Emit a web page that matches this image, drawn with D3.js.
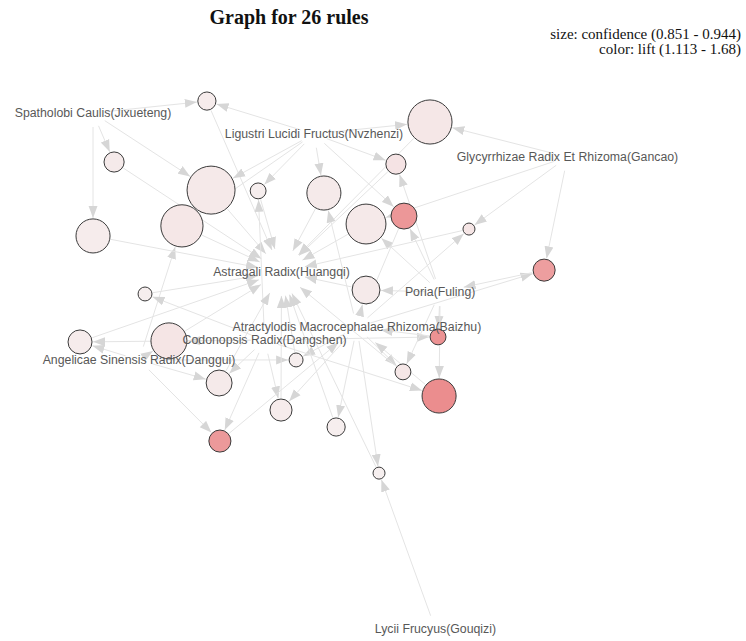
<!DOCTYPE html>
<html>
<head>
  <meta charset="utf-8">
  <script src="https://d3js.org/d3.v7.min.js"></script>
  <title>Graph for 26 rules</title>
  <style>
    body { margin: 0px; background: #fff; }
    .title { font-family: "Liberation Serif", serif; font-weight: bold; font-size: 20px; fill: #111; }
    .sub { font-family: "Liberation Serif", serif; font-size: 15px; fill: #111; }
    .item-label { font-family: "Liberation Sans", Arial, sans-serif; font-size: 12.3px; fill: #585858; }
  </style>
</head>
<body>
  <svg width="746" height="641"></svg>
  <script>
    // items (layout coords, igraph style -1..1)
    const itemNames = ['Spatholobi Caulis(Jixueteng)', 'Ligustri Lucidi Fructus(Nvzhenzi)',
      'Glycyrrhizae Radix Et Rhizoma(Gancao)', 'Astragali Radix(Huangqi)', 'Poria(Fuling)',
      'Atractylodis Macrocephalae Rhizoma(Baizhu)', 'Codonopsis Radix(Dangshen)',
      'Angelicae Sinensis Radix(Danggui)', 'Lycii Frucyus(Gouqizi)'];
    const itemX = [-0.873, -0.023, 0.952, -0.148, 0.462, 0.142, -0.213, -0.696, 0.444];
    const itemY = [0.951, 0.872, 0.785, 0.351, 0.275, 0.143, 0.094, 0.019, -0.996];

    // rules
    const ruleX = [-0.435, 0.423, -0.792, 0.292, -0.419, -0.238, 0.015, -0.531, 0.177, 0.323,
      -0.873, 0.573, 0.862, 0.177, -0.673, -0.581, -0.923, 0.454, -0.092, -0.388,
      0.319, 0.458, -0.150, -0.385, 0.062, 0.227];
    const ruleY = [0.996, 0.917, 0.766, 0.758, 0.660, 0.657, 0.649, 0.525, 0.532, 0.562,
      0.487, 0.513, 0.358, 0.283, 0.268, 0.091, 0.087, 0.106, 0.019, -0.068,
      -0.026, -0.117, -0.170, -0.287, -0.234, -0.408];
    const ruleConf = [0.867, 0.934, 0.872, 0.872, 0.944, 0.861, 0.908, 0.929, 0.923, 0.887,
      0.908, 0.851, 0.877, 0.892, 0.856, 0.913, 0.882, 0.861, 0.856, 0.887,
      0.861, 0.908, 0.877, 0.877, 0.867, 0.851];
    const ruleLift = [1.13, 1.16, 1.14, 1.18, 1.15, 1.12, 1.14, 1.16, 1.15, 1.62,
      1.13, 1.17, 1.58, 1.14, 1.12, 1.17, 1.13, 1.65, 1.12, 1.14,
      1.16, 1.68, 1.13, 1.61, 1.12, 1.113];
    // lhs / rhs as item indices
    const ruleLhs = [[0, 1], [2, 1], [0], [1, 4], [0, 1], [1, 6], [1, 5], [7, 1], [2, 4], [1, 4],
      [0], [2, 5], [2, 5], [4, 5], [6], [7, 6], [6, 7], [4, 6], [7, 5], [7, 6],
      [5, 4], [4, 6], [5, 6], [7, 6], [5], [8, 5]];
    const ruleRhs = [3, 3, 3, 3, 3, 3, 3, 3, 3, 5,
      3, 3, 4, 3, 3, 3, 3, 5, 3, 3,
      3, 5, 3, 5, 3, 3];

    const svg = d3.select('svg');
    const width = +svg.attr('width');

    const xScale = d3.scaleLinear().domain([-1, 1]).range([60, 580]);
    const yScale = d3.scaleLinear().domain([-1, 1]).range([630, 100]);
    const rScale = d3.scaleLinear().domain([0.851, 0.944]).range([6, 24]);
    const colorScale = d3.scaleLinear().domain([1.113, 1.68]).range(['#f6efef', '#eb8d8e']);

    const itemR = 24;

    // title + legend text
    svg.append('text').attr('class', 'title')
      .attr('x', 289).attr('y', 24).attr('text-anchor', 'middle')
      .text('Graph for 26 rules');
    svg.append('text').attr('class', 'sub')
      .attr('x', width - 5).attr('y', 39).attr('text-anchor', 'end')
      .text('size: confidence (0.851 - 0.944)');
    svg.append('text').attr('class', 'sub')
      .attr('x', width - 5).attr('y', 54).attr('text-anchor', 'end')
      .text('color: lift (1.113 - 1.68)');

    // arrow marker
    svg.append('defs').append('marker')
      .attr('id', 'arrow')
      .attr('markerUnits', 'userSpaceOnUse')
      .attr('viewBox', '0 -5 12 10')
      .attr('refX', 12).attr('refY', 0)
      .attr('markerWidth', 12).attr('markerHeight', 10)
      .attr('orient', 'auto')
      .append('path')
      .attr('d', 'M0,-4.5L12,0L0,4.5Z')
      .attr('fill', '#d6d6d6');

    // build edges
    const edges = [];
    ruleLhs.forEach((lhs, i) => {
      lhs.forEach(k => edges.push({ from: 'i', fi: k, to: 'r', ti: i }));
      edges.push({ from: 'r', fi: i, to: 'i', ti: ruleRhs[i] });
    });

    const pos = (t, k) => t === 'i'
      ? [xScale(itemX[k]), yScale(itemY[k])]
      : [xScale(ruleX[k]), yScale(ruleY[k])];
    const clip = (t, k, start) => t === 'i' ? (start ? 14 : itemR) : rScale(ruleConf[k]) + 1;

    const seg = edges.map(e => {
      const [x1, y1] = pos(e.from, e.fi);
      const [x2, y2] = pos(e.to, e.ti);
      const dx = x2 - x1, dy = y2 - y1;
      const len = Math.sqrt(dx * dx + dy * dy);
      const a = clip(e.from, e.fi, true), b = clip(e.to, e.ti, false);
      return {
        x1: x1 + dx / len * a, y1: y1 + dy / len * a,
        x2: x2 - dx / len * b, y2: y2 - dy / len * b
      };
    });

    svg.append('g').selectAll('line').data(seg)
      .enter().append('line')
      .attr('x1', d => d.x1).attr('y1', d => d.y1)
      .attr('x2', d => d.x2).attr('y2', d => d.y2)
      .attr('stroke', '#e4e4e4')
      .attr('stroke-width', 1)
      .attr('marker-end', 'url(#arrow)');

    // rule nodes
    svg.append('g').selectAll('circle').data(ruleX)
      .enter().append('circle')
      .attr('cx', (d, i) => xScale(ruleX[i]))
      .attr('cy', (d, i) => yScale(ruleY[i]))
      .attr('r', (d, i) => rScale(ruleConf[i]))
      .attr('fill', (d, i) => colorScale(ruleLift[i]))
      .attr('stroke', '#3a3a3a')
      .attr('stroke-width', 1);

    // item labels
    svg.append('g').selectAll('text').data(itemNames)
      .enter().append('text')
      .attr('class', 'item-label')
      .attr('x', (d, i) => xScale(itemX[i]))
      .attr('y', (d, i) => yScale(itemY[i]))
      .attr('text-anchor', 'middle')
      .attr('dy', '0.35em')
      .text(d => d);
  </script>
</body>
</html>
